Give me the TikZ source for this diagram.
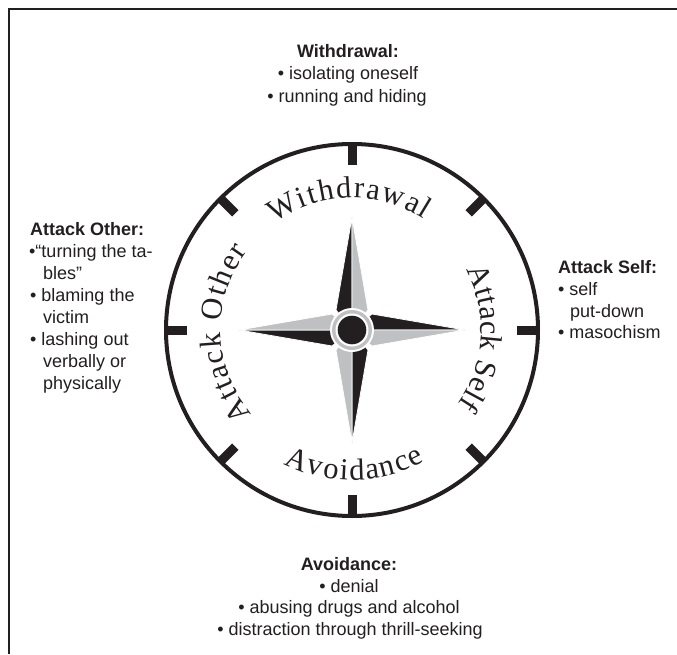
\documentclass[tikz,border=0pt]{standalone}
\usepackage{fontspec}
\setsansfont{Liberation Sans}
\newfontfamily\ringserif{Liberation Serif}
\usetikzlibrary{decorations.text}
\definecolor{ink}{RGB}{35,31,32}
\definecolor{cgray}{RGB}{190,192,194}
\newcommand{\ringfont}{\ringserif\fontsize{30.5}{30.5}\selectfont}
\tikzset{
  hd/.style={font=\sffamily\bfseries\fontsize{18}{22}\selectfont, text=ink, inner sep=0pt},
  tx/.style={font=\sffamily\fontsize{18}{22}\selectfont, text=ink, inner sep=0pt},
  ringtext/.style={decorate, decoration={text along path, text align={fit to path}, text color=ink}},
  darkhalf/.style={fill=ink, draw=white, line width=0.8pt, line join=miter},
  grayhalf/.style={fill=cgray, draw=white, line width=0.8pt, line join=miter}
}
\begin{document}
\begin{tikzpicture}[x=1pt,y=1pt]
\useasboundingbox (-352,-324) rectangle (325,330);
\fill[white] (-352,-324) rectangle (325,330);
% frame
\draw[ink, line width=2.5pt] (-343,-324) -- (-343,321) -- (325,321);
% dial
\draw[ink, line width=4pt] (0,0) circle (186);
\foreach \a in {0,45,...,315} \draw[ink, line width=9pt] (\a:165) -- (\a:187);
% compass star
\foreach \r in {0,90,180,270} {
  \begin{scope}[rotate=\r]
    \path[darkhalf] (0,113) -- (-16,20) -- (0,0) -- cycle;
    \path[grayhalf] (0,113) -- (16,20) -- (0,0) -- cycle;
  \end{scope}
}
\fill[white] (0,0) circle (22);
\fill[cgray] (0,0) circle (20);
\fill[white] (0,0) circle (16.5);
\fill[ink] (0,0) circle (14.3);
% ring labels
\path[ringtext, decoration={text={|\ringfont|Withdrawal}}] (126:132) arc (126:57:132);
\path[ringtext, decoration={text={|\ringfont|Attack Self}}] (28:129) arc (28:-35:129);
\path[ringtext, decoration={text={|\ringfont|Attack Other}}] (220:131) arc (220:143:131);
\path[ringtext, decoration={text={|\ringfont|Avoidance}}] (-117:150) arc (-117:-61:150);
% top block
\node[hd, anchor=base] (w0) at (-4,272) {Withdrawal:};
\node[tx, anchor=base] (w1) at (-4,250) {• isolating oneself};
\node[tx, anchor=base] (w2) at (-5,228) {• running and hiding};
% bottom block
\node[hd, anchor=base] (v0) at (-3,-240) {Avoidance:};
\node[tx, anchor=base] (v1) at (-3,-262) {• denial};
\node[tx, anchor=base] (v2) at (-3,-283) {• abusing drugs and alcohol};
\node[tx, anchor=base] (v3) at (-2,-305) {• distraction through thrill-seeking};
% left block
\node[hd, anchor=base west] (o0) at (-322,95) {Attack Other:};
\node[tx, anchor=base west] (o1) at (-323,73) {•“turning the ta-};
\node[tx, anchor=base west] (o2) at (-309,51) {bles”};
\node[tx, anchor=base west] (o3) at (-322,29) {• blaming the};
\node[tx, anchor=base west] (o4) at (-309,7) {victim};
\node[tx, anchor=base west] (o5) at (-322,-15) {• lashing out};
\node[tx, anchor=base west] (o6) at (-309,-37) {verbally or};
\node[tx, anchor=base west] (o7) at (-309,-59) {physically};
% right block
\node[hd, anchor=base west] (s0) at (206,57) {Attack Self:};
\node[tx, anchor=base west] (s1) at (206,35) {• self};
\node[tx, anchor=base west] (s2) at (218,13) {put-down};
\node[tx, anchor=base west] (s3) at (206,-8) {• masochism};
\end{tikzpicture}
\end{document}
